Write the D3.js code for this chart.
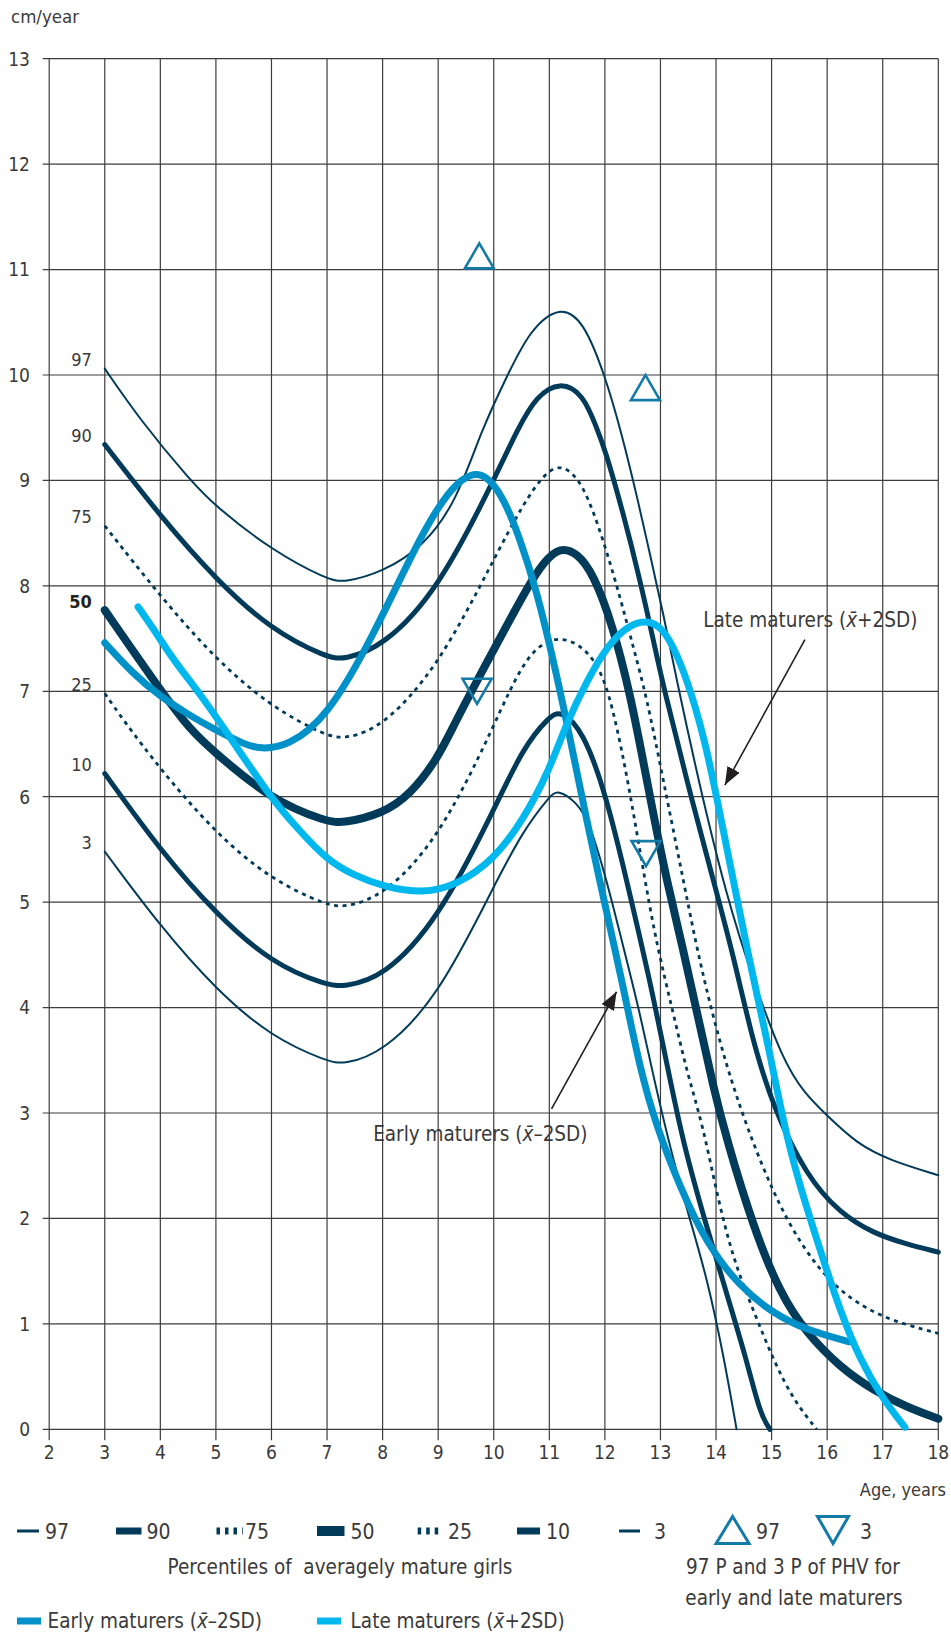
<!DOCTYPE html>
<html>
<head>
<meta charset="utf-8">
<script src="https://cdn.jsdelivr.net/npm/d3@7"></script>
<style>
  html, body { margin: 0; padding: 0; background: #fff; }
  svg { display: block; }
  text { font-family: "Liberation Sans Narrow", "Arial Narrow", "DejaVu Sans Condensed", sans-serif; fill: #3a3a3a; }
</style>
</head>
<body>
<script>
// ---------- DATA ----------
const xTicks = [2,3,4,5,6,7,8,9,10,11,12,13,14,15,16,17,18];
const yTicks = [0,1,2,3,4,5,6,7,8,9,10,11,12,13];

const p97 = [[3,10.06],[3.64,9.57],[4.54,9.0],[5,8.75],[6,8.34],[7,8.06],[7.3,8.03],[8,8.13],[8.73,8.37],[9.33,8.8],[9.78,9.48],[10.23,9.98],[10.65,10.43],[11.19,10.66],[11.61,10.52],[12,10.0],[12.3,9.45],[12.6,8.8],[12.81,8.3],[13.05,7.74],[13.29,7.11],[13.68,6.16],[14.19,5.05],[14.67,4.26],[15.2,3.5],[15.6,3.18],[15.99,2.98],[16.53,2.71],[17.13,2.55],[18,2.41]];
const p90 = [[3,9.34],[4,8.66],[5,8.06],[6,7.58],[7,7.32],[7.3,7.3],[8,7.42],[9,7.96],[10,9.0],[10.44,9.5],[10.77,9.8],[11.19,9.94],[11.61,9.82],[11.85,9.5],[12,9.3],[12.33,8.69],[12.63,8.06],[12.87,7.49],[13.05,7.05],[13.47,6.16],[13.95,5.21],[14.31,4.5],[14.65,3.7],[15.03,3.05],[15.63,2.4],[16.23,2.05],[16.83,1.86],[17.4,1.76],[18,1.68]];
const p75 = [[3,8.57],[4,7.9],[5,7.3],[6,6.85],[7,6.57],[7.35,6.55],[8,6.66],[9,7.23],[10,8.25],[10.53,8.78],[10.92,9.07],[11.22,9.16],[11.6,8.99],[11.97,8.44],[12.27,7.9],[12.51,7.42],[12.75,6.95],[13.05,6.16],[13.41,5.21],[13.71,4.42],[14.01,3.79],[14.22,3.4],[14.55,2.87],[15.03,2.24],[15.51,1.76],[16.11,1.35],[16.83,1.10],[17.43,0.99],[18,0.91]];
const p50 = [[3,7.77],[4,7.01],[4.54,6.63],[5,6.41],[6,5.97],[7,5.76],[7.3,5.75],[8,5.84],[8.5,6.02],[9,6.37],[9.3,6.7],[9.75,7.15],[10.23,7.62],[10.6,7.98],[10.9,8.23],[11.2,8.37],[11.5,8.31],[11.79,8.12],[12.15,7.61],[12.45,6.98],[12.66,6.42],[12.87,5.84],[13.11,5.21],[13.41,4.55],[13.68,3.9],[13.95,3.25],[14.19,2.75],[14.67,1.92],[15.15,1.29],[15.63,0.91],[16.23,0.59],[16.83,0.37],[17.43,0.21],[18,0.10]];
const p25 = [[3,6.98],[3.33,6.73],[4,6.26],[5,5.65],[6,5.21],[7,4.97],[7.3,4.95],[8,5.05],[9,5.59],[10,6.66],[10.59,7.38],[11.22,7.56],[11.85,7.33],[12.15,6.85],[12.45,6.05],[12.69,5.3],[12.93,4.6],[13.23,3.95],[13.47,3.4],[13.77,2.87],[14.01,2.24],[14.31,1.61],[14.67,1.13],[15.03,0.66],[15.39,0.28],[15.81,0]];
const p10 = [[3,6.22],[4,5.49],[5,4.89],[6,4.42],[7,4.21],[7.3,4.2],[8,4.28],[9,4.83],[10,5.87],[10.53,6.47],[11,6.76],[11.2,6.82],[11.61,6.63],[12.03,6.0],[12.39,5.21],[12.81,4.26],[13.14,3.4],[13.41,2.71],[13.83,1.92],[14.19,1.29],[14.55,0.66],[14.79,0.15],[14.97,0]];
const p3 = [[3,5.48],[4,4.77],[5,4.17],[6,3.72],[7,3.49],[7.3,3.46],[8,3.57],[9,4.10],[10,5.15],[10.53,5.68],[11,6.0],[11.15,6.07],[11.49,5.95],[11.73,5.75],[12.03,5.21],[12.33,4.58],[12.63,3.95],[12.87,3.35],[13.23,2.55],[13.53,1.99],[13.83,1.45],[14.13,0.72],[14.37,0]];
const early = [[3,7.46],[3.5,7.17],[4,6.95],[4.5,6.78],[5,6.63],[5.5,6.5],[5.8,6.45],[6.3,6.48],[7,6.75],[7.83,7.52],[8.73,8.53],[9.2,8.9],[9.45,9.02],[9.7,9.08],[9.96,9.0],[10.2,8.8],[10.45,8.48],[10.77,7.96],[11.07,7.3],[11.31,6.72],[11.67,5.78],[11.97,5.05],[12.33,4.2],[12.63,3.42],[12.93,2.87],[13.35,2.3],[13.83,1.76],[14.43,1.35],[15.03,1.10],[15.63,0.94],[16.4,0.83]];
const late = [[3.6,7.8],[3.93,7.55],[4.23,7.3],[4.71,6.98],[5.25,6.57],[5.97,6.0],[6.5,5.68],[7,5.4],[7.5,5.25],[8,5.15],[8.73,5.08],[9.33,5.16],[10,5.4],[10.53,5.78],[11,6.25],[11.31,6.7],[11.7,7.12],[12.03,7.42],[12.4,7.62],[12.75,7.68],[13.05,7.6],[13.3,7.35],[13.55,7.0],[13.83,6.47],[14.07,5.84],[14.31,5.21],[14.61,4.42],[14.94,3.65],[15.27,2.75],[15.63,2.1],[15.93,1.61],[16.23,1.13],[16.59,0.66],[17.01,0.28],[17.4,0.02]];
const phv97 = [[9.74,11.13],[12.73,9.88]];
const phv3 = [[9.70,7.0],[12.74,5.46]];

const percentileNames = ["97","90","75","50","25","10","3"];
const percentileSeries = [p97,p90,p75,p50,p25,p10,p3];
const earlyLabel = "Early maturers";
const lateLabel = "Late maturers";

// ---------- STYLES ----------
const NAVY = "#013b59", EARLY = "#0091c9", LATE = "#00b8ee", TRI = "#137ba6", INK = "#231f20";
const pStyle = {
  "97": {w: 2, dash: null},
  "90": {w: 5, dash: null},
  "75": {w: 2.8, dash: "4,4.6"},
  "50": {w: 8, dash: null},
  "25": {w: 2.8, dash: "4,4.6"},
  "10": {w: 5, dash: null},
  "3":  {w: 2, dash: null}
};

const W = 951, H = 1635;
const svg = d3.select("body").append("svg").attr("width", W).attr("height", H);

const x = d3.scaleLinear().domain([2,18]).range([49.2,938.3]);
const y = d3.scaleLinear().domain([0,13]).range([1429.3,58.7]);

// grid
const grid = svg.append("g");
grid.selectAll("line.v").data(xTicks).join("line")
  .attr("x1", d => x(d)).attr("x2", d => x(d))
  .attr("y1", y(13)).attr("y2", y(0) + 11)
  .attr("stroke", "#3d3d3d").attr("stroke-width", 1.2);
grid.selectAll("line.h").data(yTicks).join("line")
  .attr("x1", x(2) - 6.5).attr("x2", x(18))
  .attr("y1", d => y(d)).attr("y2", d => y(d))
  .attr("stroke", "#3d3d3d").attr("stroke-width", 1.2);

// tick labels
svg.append("g").selectAll("text").data(yTicks).join("text")
  .attr("x", 30).attr("y", d => y(d)).attr("dy", "0.36em")
  .attr("text-anchor", "end").attr("font-size", 19).text(d => d);
svg.append("g").selectAll("text").data(xTicks).join("text")
  .attr("x", d => x(d)).attr("y", 1452).attr("dy", "0.36em")
  .attr("text-anchor", "middle").attr("font-size", 19).text(d => d);

svg.append("text").attr("x", 11).attr("y", 23).attr("font-size", 18.5).text("cm/year");
svg.append("text").attr("x", 946).attr("y", 1490).attr("dy", "0.36em")
  .attr("text-anchor", "end").attr("font-size", 18).text("Age, years");

// curves
const line = d3.line().x(d => x(d[0])).y(d => y(d[1])).curve(d3.curveBasis);
const curves = svg.append("g").attr("fill", "none");

percentileSeries.forEach((s, i) => {
  const st = pStyle[percentileNames[i]];
  curves.append("path").attr("d", line(s))
    .attr("stroke", NAVY).attr("stroke-width", st.w)
    .attr("stroke-dasharray", st.dash)
    .attr("stroke-linecap", st.dash ? "butt" : "round")
    .attr("stroke-linejoin", "round");
});
curves.append("path").attr("d", line(early))
  .attr("stroke", EARLY).attr("stroke-width", 7).attr("stroke-linecap", "round");
curves.append("path").attr("d", line(late))
  .attr("stroke", LATE).attr("stroke-width", 7).attr("stroke-linecap", "round");

// percentile labels at the curve starts
svg.append("g").selectAll("text").data(percentileNames).join("text")
  .attr("x", (d, i) => x(percentileSeries[i][0][0]) - 13)
  .attr("y", (d, i) => y(percentileSeries[i][0][1]) - 9)
  .attr("dy", "0.36em").attr("text-anchor", "end").attr("font-size", 18)
  .attr("font-weight", d => d === "50" ? "bold" : null)
  .style("fill", d => d === "50" ? "#222" : null)
  .text(d => d);

// PHV triangles
function triPath(cx, cy, up, w, h) {
  return up
    ? `M${cx},${cy - h/2}L${cx + w/2},${cy + h/2}L${cx - w/2},${cy + h/2}Z`
    : `M${cx - w/2},${cy - h/2}L${cx + w/2},${cy - h/2}L${cx},${cy + h/2}Z`;
}
const tri = svg.append("g").attr("fill", "none").attr("stroke", TRI).attr("stroke-width", 2.6).attr("stroke-linejoin", "miter");
phv97.forEach(d => tri.append("path").attr("d", triPath(x(d[0]), y(d[1]), true, 29, 25)));
phv3.forEach(d => tri.append("path").attr("d", triPath(x(d[0]), y(d[1]), false, 29, 25)));

// annotations with arrows
const defs = svg.append("defs");
defs.append("marker").attr("id", "arr").attr("viewBox", "0 0 18 14")
  .attr("refX", 18).attr("refY", 7).attr("markerWidth", 18).attr("markerHeight", 14)
  .attr("markerUnits", "userSpaceOnUse").attr("orient", "auto")
  .append("path").attr("d", "M0,0L18,7L0,14Z").attr("fill", INK);

const annotations = [
  {label: earlyLabel, sign: "–", tx: 7.83, ty: 2.73, from: [11.04, 3.04], to: [12.21, 4.15]},
  {label: lateLabel, sign: "+", tx: 13.77, ty: 7.61, from: [15.60, 7.49], to: [14.16, 6.11]}
];
annotations.forEach(a => {
  svg.append("line")
    .attr("x1", x(a.from[0])).attr("y1", y(a.from[1]))
    .attr("x2", x(a.to[0])).attr("y2", y(a.to[1]))
    .attr("stroke", INK).attr("stroke-width", 1.6).attr("marker-end", "url(#arr)");
  const t = svg.append("text").attr("x", x(a.tx)).attr("y", y(a.ty)).attr("font-size", 20.5);
  t.append("tspan").text(a.label + " (");
  t.append("tspan").attr("font-style", "italic").text("x\u0304");
  t.append("tspan").text(a.sign + "2SD)");
});

// ---------- LEGEND ----------
const lg = svg.append("g");
const row1 = 1531;
const legendItems = [
  {name: "97", x0: 17, x1: 39, tx: 45},
  {name: "90", x0: 116, x1: 141.5, tx: 146.5},
  {name: "75", x0: 216.5, x1: 242.7, tx: 245},
  {name: "50", x0: 317, x1: 344.5, tx: 350.6},
  {name: "25", x0: 417.7, x1: 442, tx: 448},
  {name: "10", x0: 517, x1: 540, tx: 546},
  {name: "3",  x0: 619, x1: 640, tx: 654}
];
const legendWidth = {"97": 3, "90": 7, "75": 7, "50": 10, "25": 7, "10": 7, "3": 3};
legendItems.forEach(it => {
  const st = pStyle[it.name];
  lg.append("line").attr("x1", it.x0).attr("x2", it.x1).attr("y1", row1).attr("y2", row1)
    .attr("stroke", NAVY).attr("stroke-width", legendWidth[it.name])
    .attr("stroke-dasharray", st.dash ? "3.5,5" : null);
  lg.append("text").attr("x", it.tx).attr("y", row1).attr("dy", "0.36em")
    .attr("font-size", 21).text(it.name);
});
lg.append("path").attr("d", triPath(732.6, row1 - 1, true, 33, 27))
  .attr("fill", "none").attr("stroke", TRI).attr("stroke-width", 3);
lg.append("text").attr("x", 756).attr("y", row1).attr("dy", "0.36em").attr("font-size", 21).text("97");
lg.append("path").attr("d", triPath(833, row1 - 1, false, 31, 27))
  .attr("fill", "none").attr("stroke", TRI).attr("stroke-width", 3);
lg.append("text").attr("x", 860).attr("y", row1).attr("dy", "0.36em").attr("font-size", 21).text("3");

lg.append("text").attr("x", 340).attr("y", 1566.7).attr("dy", "0.36em")
  .attr("text-anchor", "middle").attr("font-size", 20.5).style("white-space", "pre")
  .text("Percentiles of  averagely mature girls");
lg.append("text").attr("x", 793).attr("y", 1566.7).attr("dy", "0.36em")
  .attr("text-anchor", "middle").attr("font-size", 20.5).text("97 P and 3 P of PHV for");
lg.append("text").attr("x", 794).attr("y", 1598).attr("dy", "0.36em")
  .attr("text-anchor", "middle").attr("font-size", 20.5).text("early and late maturers");

const row3 = 1621;
[{c: EARLY, x0: 17, tx: 47.6, label: earlyLabel, sign: "–"},
 {c: LATE, x0: 317, tx: 350.6, label: lateLabel, sign: "+"}].forEach(it => {
  lg.append("rect").attr("x", it.x0).attr("y", row3 - 3.5).attr("width", 24).attr("height", 7).attr("fill", it.c);
  const t = lg.append("text").attr("x", it.tx).attr("y", row3).attr("dy", "0.36em").attr("font-size", 20.5);
  t.append("tspan").text(it.label + " (");
  t.append("tspan").attr("font-style", "italic").text("x\u0304");
  t.append("tspan").text(it.sign + "2SD)");
});
</script>
</body>
</html>
